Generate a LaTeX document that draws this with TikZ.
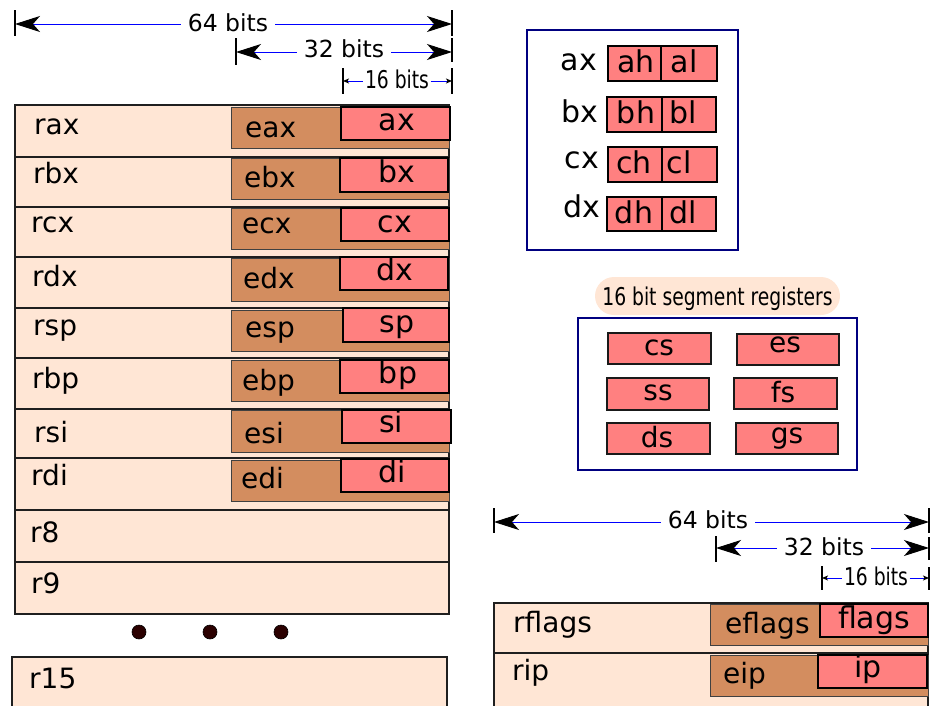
\documentclass[tikz,border=0pt]{standalone}
\usepackage{fontspec}
\setmainfont{DejaVu Sans}
\newfontfamily\condfont{DejaVu Sans Condensed}[FakeStretch=0.85]
\usetikzlibrary{arrows.meta}
\definecolor{pale}{HTML}{FFE6D5}
\definecolor{regbrown}{HTML}{D38D5F}
\definecolor{regred}{HTML}{FF8080}
\definecolor{navyc}{HTML}{000080}
\definecolor{dimblue}{HTML}{0000FF}
\definecolor{dotc}{HTML}{2B0000}
\newcommand\regrect[6]{%
  \pgfmathsetmacro\regW{#5-#3}\pgfmathsetmacro\regH{#6-#4}%
  \node[#1, minimum width=\regW pt, minimum height=\regH pt] (#2) at (#3,#4) {};}
\tikzset{
  boxbase/.style={anchor=north west, inner sep=0pt, outer sep=0pt, rectangle},
  full/.style={boxbase, draw=black!88, line width=1.6pt, fill=pale},
  half/.style={boxbase, draw=black!75, line width=1pt, fill=regbrown},
  quarter/.style={boxbase, draw=black, line width=2.2pt, fill=regred},
  navybox/.style={boxbase, draw=navyc, line width=2pt, fill=white},
  pill/.style={boxbase, fill=pale, rounded corners=19pt},
  lbl/.style={font=\fontsize{28}{28}\selectfont, inner sep=0pt, anchor=base west},
  qlbl/.style={font=\fontsize{30}{30}\selectfont, inner sep=0pt, anchor=base},
  xlbl/.style={font=\fontsize{30}{30}\selectfont, inner sep=0pt, anchor=base east},
  slbl/.style={font=\fontsize{28}{28}\selectfont, inner sep=0pt, anchor=base},
  dimlbl/.style={font=\fontsize{23.5}{23.5}\selectfont, inner ysep=0pt, inner xsep=7pt, anchor=base},
  dimsmall/.style={font=\condfont\fontsize{24.5}{24.5}\selectfont, inner ysep=0pt, inner xsep=1.5pt, anchor=base},
  dimline/.style={draw=dimblue, line width=1pt},
  tick/.style={draw=black, line width=2pt},
  bigtip/.tip={Stealth[length=25pt,width=16pt,inset=7pt,black]},
  smalltip/.tip={Stealth[length=6pt,width=5pt,inset=1.5pt,black]},
}
\begin{document}
\begin{tikzpicture}[x=1pt,y=-1pt]
\useasboundingbox (0,0) rectangle (930,705);
\clip (0,0) rectangle (930,705);

% ---------- top-left dimensions ----------
\draw[tick] (15,10) -- (15,36);
\draw[tick] (452,10) -- (452,36);
\coordinate (a64l) at (15,24); \coordinate (a64r) at (452,24);
\node[dimlbl] (a64t) at (228,31) {64 bits};
\draw[dimline, arrows={bigtip-}] (a64l) -- (a64t.west |- a64l);
\draw[dimline, arrows={-bigtip}] (a64t.east |- a64r) -- (a64r);

\draw[tick] (236,38) -- (236,65);
\draw[tick] (452,38) -- (452,62);
\coordinate (a32l) at (236,52); \coordinate (a32r) at (452,52);
\node[dimlbl] (a32t) at (344,57) {32 bits};
\draw[dimline, arrows={bigtip-}] (a32l) -- (a32t.west |- a32l);
\draw[dimline, arrows={-bigtip}] (a32t.east |- a32r) -- (a32r);

\draw[tick, line width=1.5pt] (343,68) -- (343,94);
\draw[tick, line width=1.5pt] (452,68) -- (452,94);
\coordinate (a16l) at (343,81); \coordinate (a16r) at (452,81);
\node[dimsmall] (a16t) at (397,88) {16 bits};
\draw[dimline, arrows={smalltip-}] (a16l) -- (a16t.west |- a16l);
\draw[dimline, arrows={-smalltip}] (a16t.east |- a16r) -- (a16r);

% ---------- general purpose registers ----------
\regrect{full}{rax}{15}{105}{449}{157}
\regrect{half}{eax}{231}{107}{449}{148}
\regrect{quarter}{ax}{341}{107}{450}{140}
\node[lbl] (raxL) at (34,134) {rax};
\node[lbl] (eaxL) at (245,137) {eax};
\node[qlbl] (axL) at (397,130) {ax};

\regrect{full}{rbx}{15}{157}{449}{207}
\regrect{half}{ebx}{231}{158}{449}{199}
\regrect{quarter}{bx}{340}{158}{448}{192}
\node[lbl] (rbxL) at (33,183) {rbx};
\node[lbl] (ebxL) at (244,187) {ebx};
\node[qlbl] (bxL) at (397,182) {bx};

\regrect{full}{rcx}{15}{207}{449}{257}
\regrect{half}{ecx}{231}{208}{449}{249}
\regrect{quarter}{cx}{341}{208}{449}{241}
\node[lbl] (rcxL) at (31,232) {rcx};
\node[lbl] (ecxL) at (242,233) {ecx};
\node[qlbl] (cxL) at (395,232) {cx};

\regrect{full}{rdx}{15}{257}{449}{308}
\regrect{half}{edx}{231}{258}{449}{301}
\regrect{quarter}{dx}{340}{257}{448}{290}
\node[lbl] (rdxL) at (32,286) {rdx};
\node[lbl] (edxL) at (243,288) {edx};
\node[qlbl] (dxL) at (395,280) {dx};

\regrect{full}{rsp}{15}{308}{449}{358}
\regrect{half}{esp}{231}{310}{449}{351}
\regrect{quarter}{sp}{343}{308}{449}{342}
\node[lbl] (rspL) at (33,335) {rsp};
\node[lbl] (espL) at (245,337) {esp};
\node[qlbl] (spL) at (397,332) {sp};

\regrect{full}{rbp}{15}{358}{449}{409}
\regrect{half}{ebp}{231}{360}{449}{401}
\regrect{quarter}{bp}{340}{360}{449}{393}
\node[lbl] (rbpL) at (32,388) {rbp};
\node[lbl] (ebpL) at (242,390) {ebp};
\node[qlbl] (bpL) at (398,383) {bp};

\regrect{full}{rsi}{15}{409}{449}{458}
\regrect{half}{esi}{231}{410}{449}{452}
\regrect{quarter}{si}{342}{410}{451}{443}
\node[lbl] (rsiL) at (34,442) {rsi};
\node[lbl] (esiL) at (244,443) {esi};
\node[qlbl] (siL) at (391,432) {si};

\regrect{full}{rdi}{15}{458}{449}{510}
\regrect{half}{edi}{231}{460}{449}{501}
\regrect{quarter}{di}{341}{459}{449}{492}
\node[lbl] (rdiL) at (31,485) {rdi};
\node[lbl] (ediL) at (241,488) {edi};
\node[qlbl] (diL) at (392,482) {di};

\regrect{full}{r8}{15}{510}{449}{562}
\node[lbl] (r8L) at (30,542) {r8};
\regrect{full}{r9}{15}{562}{449}{614}
\node[lbl] (r9L) at (31,593) {r9};

\foreach \dx in {139,210,281}
  \fill[dotc, draw=black, line width=0.6pt] (\dx,632) circle (7);

\regrect{full}{r15}{12}{657}{447}{720}
\node[lbl] (r15L) at (29,688) {r15};

% ---------- ax/bx/cx/dx split ----------
\regrect{navybox}{xbox}{527}{30}{738}{250}
\regrect{quarter}{ahB}{608}{46}{661}{81}
\regrect{quarter}{alB}{661}{46}{717}{81}
\node[xlbl] (axR) at (597,70) {ax};
\node[qlbl] (ahL) at (636,72) {ah};
\node[qlbl] (alL) at (684,72) {al};

\regrect{quarter}{bhB}{607}{97}{662}{132}
\regrect{quarter}{blB}{662}{97}{716}{132}
\node[xlbl] (bxR) at (598,122) {bx};
\node[qlbl] (bhL) at (636,123) {bh};
\node[qlbl] (blL) at (683,123) {bl};

\regrect{quarter}{chB}{608}{147}{662}{182}
\regrect{quarter}{clB}{662}{147}{717}{182}
\node[xlbl] (cxR) at (599,168) {cx};
\node[qlbl] (chL) at (634,173) {ch};
\node[qlbl] (clL) at (679,173) {cl};

\regrect{quarter}{dhB}{607}{197}{662}{231}
\regrect{quarter}{dlB}{662}{197}{716}{231}
\node[xlbl] (dxR) at (600,217) {dx};
\node[qlbl] (dhL) at (634,223) {dh};
\node[qlbl] (dlL) at (683,223) {dl};

% ---------- segment registers ----------
\regrect{pill}{segpill}{595}{277}{840}{315}
\node[font=\condfont\fontsize{24.5}{24.5}\selectfont, inner sep=0pt, anchor=base] (segT) at (717.5,305) {16 bit segment registers};
\regrect{navybox}{segbox}{578}{318}{857}{470}
\tikzset{seg/.style={boxbase, draw=black!90, line width=2pt, fill=regred}}
\regrect{seg}{cs}{608}{333}{711}{364}
\regrect{seg}{es}{737}{334}{839}{365}
\regrect{seg}{ss}{607}{378}{709}{410}
\regrect{seg}{fs}{734}{378}{837}{409}
\regrect{seg}{ds}{607}{423}{710}{454}
\regrect{seg}{gs}{736}{423}{838}{454}
\node[slbl] (csL) at (659,355) {cs};
\node[slbl] (esL) at (785,352) {es};
\node[slbl] (ssL) at (658,400) {ss};
\node[slbl] (fsL) at (783,402) {fs};
\node[slbl] (dsL) at (657,447) {ds};
\node[slbl] (gsL) at (787,443) {gs};

% ---------- bottom-right dimensions ----------
\draw[tick] (494,508) -- (494,533);
\draw[tick] (929,508) -- (929,533);
\coordinate (b64l) at (494,522); \coordinate (b64r) at (929,522);
\node[dimlbl] (b64t) at (708,528) {64 bits};
\draw[dimline, arrows={bigtip-}] (b64l) -- (b64t.west |- b64l);
\draw[dimline, arrows={-bigtip}] (b64t.east |- b64r) -- (b64r);

\draw[tick] (716,536) -- (716,562);
\draw[tick] (929,537) -- (929,560);
\coordinate (b32l) at (716,548); \coordinate (b32r) at (929,548);
\node[dimlbl] (b32t) at (824,555) {32 bits};
\draw[dimline, arrows={bigtip-}] (b32l) -- (b32t.west |- b32l);
\draw[dimline, arrows={-bigtip}] (b32t.east |- b32r) -- (b32r);

\draw[tick, line width=1.5pt] (822,566) -- (822,590);
\draw[tick, line width=1.5pt] (929,567) -- (929,590);
\coordinate (b16l) at (822,578); \coordinate (b16r) at (929,578);
\node[dimsmall] (b16t) at (876,585) {16 bits};
\draw[dimline, arrows={smalltip-}] (b16l) -- (b16t.west |- b16l);
\draw[dimline, arrows={-smalltip}] (b16t.east |- b16r) -- (b16r);

% ---------- flags / instruction pointer ----------
\regrect{full}{rflags}{494}{603}{928}{653}
\regrect{half}{eflags}{710}{604}{928}{645}
\regrect{quarter}{flags}{820}{604}{928}{637}
\node[lbl] (rflagsL) at (513,632) {rflags};
\node[lbl] (eflagsL) at (725,633) {eflags};
\node[qlbl] (flagsL) at (874,628) {flags};

\regrect{full}{rip}{494}{653}{928}{720}
\regrect{half}{eip}{710}{655}{928}{696}
\regrect{quarter}{ip}{818}{655}{927}{688}
\node[lbl] (ripL) at (512,680) {rip};
\node[lbl] (eipL) at (723,683) {eip};
\node[qlbl] (ipL) at (868,677) {ip};
\end{tikzpicture}
\end{document}
